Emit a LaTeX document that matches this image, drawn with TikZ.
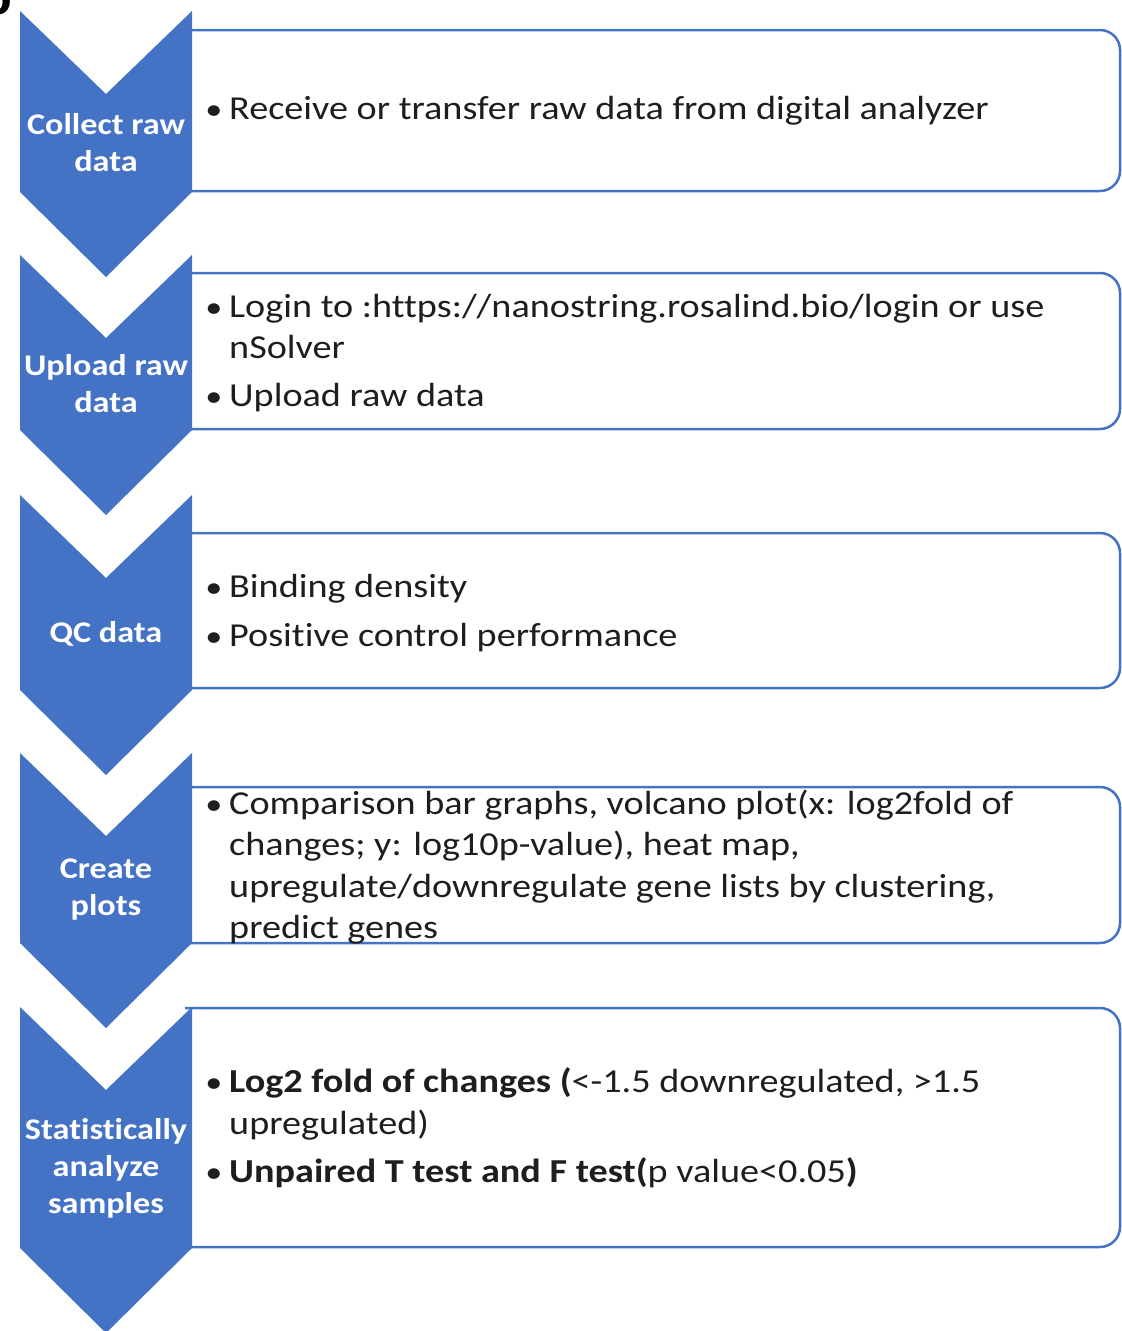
\documentclass[tikz,border=0pt]{standalone}
\usepackage{fontspec}
\setmainfont{Carlito}[FakeStretch=1.14, Ligatures=NoCommon]
\definecolor{chev}{HTML}{4472C4}
\definecolor{ink}{HTML}{1E1E1E}
\tikzset{
  chevron/.style={fill=chev, draw=none},
  panel/.style={draw=chev, line width=2.5pt, rounded corners=20pt, fill=white},
  steplabel/.style={text=white, font=\fontsize{30}{37}\selectfont\bfseries, align=center, inner sep=0pt},
  itemtext/.style={anchor=base west, text=ink, font=\fontsize{33.5}{40}\selectfont, inner sep=0pt},
  bulletmark/.style={anchor=base, text=ink, font=\fontsize{30}{40}\selectfont, inner sep=0pt},
}
\begin{document}
\begin{tikzpicture}[x=1pt, y=-1pt]
\useasboundingbox (0,0) rectangle (1122,1331);

% panel letter
\node[anchor=base east, inner sep=0pt, font=\fontsize{50}{50}\selectfont\bfseries] (panelb) at (12,14) {b};

% text panels (right corners rounded, left edge tucked under the chevrons)
\foreach \t/\b in {30/191, 273/429, 533/688, 787/943, 1008/1247} {
  \draw[panel] (185,\t) -- (1120,\t) -- (1120,\b) -- (185,\b);
}

% chevrons
\foreach \t/\s in {11/192, 255/430, 495/690, 753/943, 1007/1248} {
  \fill[chevron] (20,\t) -- (106,{\t+83}) -- (192,\t) -- (192,\s) -- (106,{\s+85}) -- (20,\s) -- cycle;
}

% step labels
\node[steplabel] (s1) at (106,142.5) {Collect raw\\data};
\node[steplabel] (s2) at (106,384) {Upload raw\\data};
\node[steplabel] (s3) at (106,633.5) {QC data};
\node[steplabel] (s4) at (106,890) {Create\\plots};
\node[steplabel] (s5) at (106,1168) {Statistically\\analyze\\samples};

% panel 1
\node[bulletmark] (p1a) at (214,119) {•};
\node[itemtext] (t1a) at (229,119) {Receive or transfer raw data from digital analyzer};

% panel 2
\node[bulletmark] (p2a) at (214,317) {•};
\node[itemtext] (t2a) at (229,317) {Login to :https://nanostring.rosalind.bio/login or use};
\node[itemtext] (t2b) at (229,358) {nSolver};
\node[bulletmark] (p2c) at (214,406) {•};
\node[itemtext] (t2c) at (229,406) {Upload raw data};

% panel 3
\node[bulletmark] (p3a) at (214,597) {•};
\node[itemtext] (t3a) at (229,597) {Binding density};
\node[bulletmark] (p3b) at (214,646) {•};
\node[itemtext] (t3b) at (229,646) {Positive control performance};

% panel 4
\node[bulletmark] (p4a) at (214,814) {•};
\node[itemtext] (t4a) at (229,814) {Comparison bar graphs, volcano plot(x: log2fold of};
\node[itemtext] (t4b) at (229,855) {changes; y: log10p-value), heat map,};
\node[itemtext] (t4c) at (229,897) {upregulate/downregulate gene lists by clustering,};
\node[itemtext] (t4d) at (229,938) {predict genes};

% panel 5
\node[bulletmark] (p5a) at (214,1092) {•};
\node[itemtext] (t5a) at (229,1092) {\textbf{Log2 fold of changes (}<-1.5 downregulated, >1.5};
\node[itemtext] (t5b) at (229,1134) {upregulated)};
\node[bulletmark] (p5c) at (214,1182) {•};
\node[itemtext] (t5c) at (229,1182) {\textbf{Unpaired T test and F test(}p value<0.05\textbf{)}};
\end{tikzpicture}
\end{document}
